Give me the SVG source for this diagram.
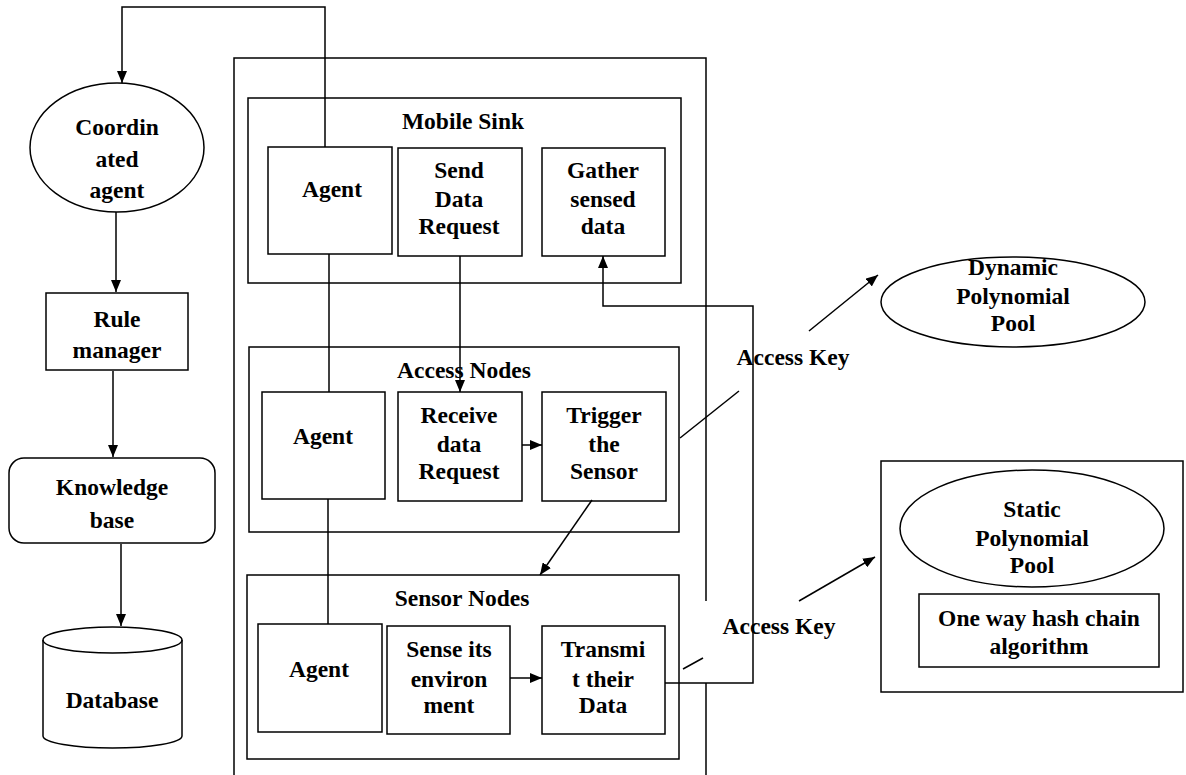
<svg xmlns="http://www.w3.org/2000/svg" width="1186" height="775" viewBox="0 0 1186 775">
<style>
.s{fill:none;stroke:#000;stroke-width:1.5}
.b{fill:#fff;stroke:#000;stroke-width:1.5}
.t{font-family:"Liberation Serif","Times New Roman",serif;font-weight:bold;font-size:23.5px;text-anchor:middle;fill:#000}
</style>
<defs>
<marker id="ah" viewBox="0 0 12 10" refX="12" refY="5" markerWidth="12" markerHeight="10" markerUnits="userSpaceOnUse" orient="auto">
<path d="M0,0 L12,5 L0,10 Z" fill="#000"/>
</marker>
</defs>
<rect width="1186" height="775" fill="#fff"/>

<g id="outer-frame">
<path class="s" d="M234,775 V58 H706 V601 M706,683 V775"/>
</g>

<g id="mobile-sink">
<rect class="s" x="248" y="98" width="433" height="185"/>
<text class="t" x="463" y="129">Mobile Sink</text>
</g>
<g id="ms-agent">
<rect class="s" x="268" y="147" width="124" height="107"/>
<text class="t" x="332" y="197">Agent</text>
</g>
<g id="ms-send">
<rect class="s" x="398" y="148" width="124" height="108"/>
<text class="t" x="459" y="178">Send</text>
<text class="t" x="459" y="207">Data</text>
<text class="t" x="459" y="234">Request</text>
</g>
<g id="ms-gather">
<rect class="s" x="542" y="148" width="123" height="108"/>
<text class="t" x="603" y="178">Gather</text>
<text class="t" x="603" y="207">sensed</text>
<text class="t" x="603" y="234">data</text>
</g>

<g id="access-nodes">
<rect class="s" x="249" y="347" width="430" height="185"/>
<text class="t" x="464" y="378">Access Nodes</text>
</g>
<g id="an-agent">
<rect class="s" x="262" y="392" width="123" height="107"/>
<text class="t" x="323" y="444">Agent</text>
</g>
<g id="an-receive">
<rect class="s" x="398" y="392" width="124" height="109"/>
<text class="t" x="459" y="423">Receive</text>
<text class="t" x="459" y="452">data</text>
<text class="t" x="459" y="479">Request</text>
</g>
<g id="an-trigger">
<rect class="s" x="542" y="392" width="124" height="109"/>
<text class="t" x="604" y="423">Trigger</text>
<text class="t" x="604" y="452">the</text>
<text class="t" x="604" y="479">Sensor</text>
</g>

<g id="sensor-nodes">
<rect class="s" x="247" y="575" width="432" height="184"/>
<text class="t" x="462" y="606">Sensor Nodes</text>
</g>
<g id="sn-agent">
<rect class="s" x="258" y="624" width="124" height="108"/>
<text class="t" x="319" y="677">Agent</text>
</g>
<g id="sn-sense">
<rect class="s" x="387" y="626" width="123" height="108"/>
<text class="t" x="449" y="657">Sense its</text>
<text class="t" x="449" y="687">environ</text>
<text class="t" x="449" y="713">ment</text>
</g>
<g id="sn-transmit">
<rect class="s" x="542" y="626" width="123" height="108"/>
<text class="t" x="603" y="657">Transmi</text>
<text class="t" x="603" y="687">t their</text>
<text class="t" x="603" y="713">Data</text>
</g>

<g id="coordinated-agent">
<ellipse class="s" cx="117" cy="147.5" rx="87" ry="64.5"/>
<text class="t" x="117" y="135">Coordin</text>
<text class="t" x="117" y="167">ated</text>
<text class="t" x="117" y="198">agent</text>
</g>
<g id="rule-manager">
<rect class="s" x="46" y="293" width="142" height="77"/>
<text class="t" x="117" y="327">Rule</text>
<text class="t" x="117" y="358">manager</text>
</g>
<g id="knowledge-base">
<rect class="s" x="9" y="458" width="206" height="85" rx="15" ry="15"/>
<text class="t" x="112" y="495">Knowledge</text>
<text class="t" x="112" y="528">base</text>
</g>
<g id="database">
<path class="s" d="M43,640 V736 A69.5,12 0 0 0 182,736 V640"/>
<ellipse class="s" cx="112.5" cy="640" rx="69.5" ry="13"/>
<text class="t" x="112" y="708">Database</text>
</g>

<g id="dynamic-pool">
<ellipse class="s" cx="1013" cy="302" rx="132" ry="45"/>
<text class="t" x="1013" y="275">Dynamic</text>
<text class="t" x="1013" y="304">Polynomial</text>
<text class="t" x="1013" y="331">Pool</text>
</g>
<g id="static-pool-box">
<rect class="s" x="881" y="461" width="302" height="231"/>
</g>
<g id="static-pool">
<ellipse class="s" cx="1032" cy="528.5" rx="132" ry="58.5"/>
<text class="t" x="1032" y="517">Static</text>
<text class="t" x="1032" y="546">Polynomial</text>
<text class="t" x="1032" y="573">Pool</text>
</g>
<g id="hash-chain">
<rect class="s" x="919" y="594" width="240" height="73"/>
<text class="t" x="1039" y="626">One way hash chain</text>
<text class="t" x="1039" y="654">algorithm</text>
</g>

<g id="connectors">
<path class="s" d="M325,147 V7 H122 V83" marker-end="url(#ah)"/>
<path class="s" d="M116,212 V292" marker-end="url(#ah)"/>
<path class="s" d="M113,371 V457" marker-end="url(#ah)"/>
<path class="s" d="M121,544 V626" marker-end="url(#ah)"/>
<path class="s" d="M329,254 V392"/>
<path class="s" d="M328,499 V624"/>
<path class="s" d="M460,256 V392" marker-end="url(#ah)"/>
<path class="s" d="M522,445 H542" marker-end="url(#ah)"/>
<path class="s" d="M592,500 L540,575" marker-end="url(#ah)"/>
<path class="s" d="M510,678 H542" marker-end="url(#ah)"/>
<path class="s" d="M680,438 L739,391"/>
<path class="s" d="M809,331 L878,275" marker-end="url(#ah)"/>
<path class="s" d="M683,669 L703,658"/>
<path class="s" d="M799,601 L875,557" marker-end="url(#ah)"/>
<path class="s" d="M665,683 H753 V306 H603 V256" marker-end="url(#ah)"/>
</g>

<g id="access-key-labels">
<text class="t" x="793" y="365">Access Key</text>
<text class="t" x="779" y="634">Access Key</text>
</g>
</svg>
